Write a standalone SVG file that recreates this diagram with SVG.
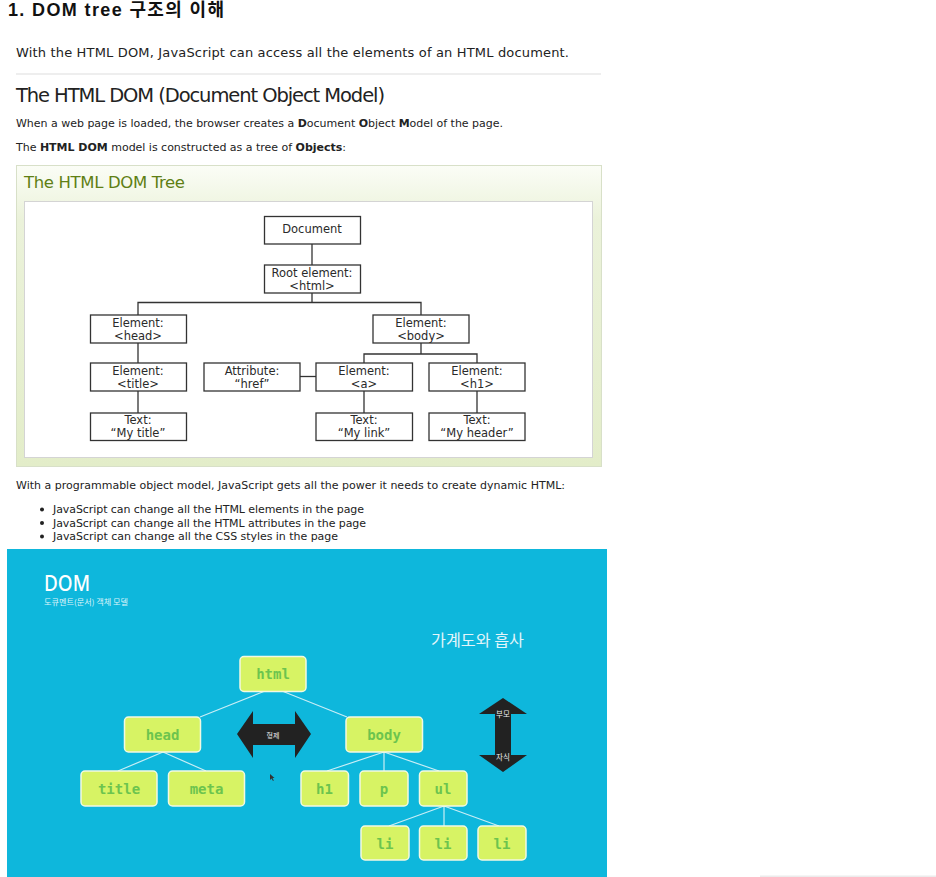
<svg xmlns="http://www.w3.org/2000/svg" width="936" height="877" viewBox="0 0 936 877">
<defs>
<linearGradient id="panelGrad" x1="0" y1="0" x2="0" y2="1">
<stop offset="0" stop-color="#fbfdf6"/>
<stop offset="0.18" stop-color="#ebf2da"/>
<stop offset="1" stop-color="#e3edc9"/>
</linearGradient>
<style>
.t{font-family:"DejaVu Sans","Noto Sans CJK KR",sans-serif;fill:#222}
.nb{fill:#fff;stroke:#333;stroke-width:1.3}
.nt{font-family:"DejaVu Sans",sans-serif;font-size:11.5px;fill:#2a2a2a;text-anchor:middle}
.tl{stroke:#333;stroke-width:1.3;fill:none}
.gn{fill:#d7f364;stroke:#f2f9e2;stroke-width:1.5}
.gt{font-family:"DejaVu Sans Mono","Liberation Mono",monospace;font-size:14px;font-weight:bold;fill:#6cc44e;text-anchor:middle}
.gl{stroke:#c9eef6;stroke-width:1.2;fill:none}
.kr{font-family:"Noto Sans CJK KR",sans-serif}
</style>
</defs>
<rect x="0" y="0" width="936" height="877" fill="#fff"/>

<!-- Header texts -->
<text x="8" y="16" font-family="Liberation Sans,'Noto Sans CJK KR',sans-serif" font-weight="bold" font-size="18" fill="#111" textLength="216">1. DOM tree 구조의 이해</text>
<text class="t" x="16" y="57" font-size="13" fill="#333" textLength="553">With the HTML DOM, JavaScript can access all the elements of an HTML document.</text>
<rect x="16" y="73.5" width="585" height="1" fill="#dddddd"/>
<text class="t" x="16" y="102" font-size="19.5" textLength="369">The HTML DOM (Document Object Model)</text>
<text class="t" x="16" y="127" font-size="11" textLength="487">When a web page is loaded, the browser creates a <tspan font-weight="bold">D</tspan>ocument <tspan font-weight="bold">O</tspan>bject <tspan font-weight="bold">M</tspan>odel of the page.</text>
<text class="t" x="16" y="151" font-size="11" textLength="330">The <tspan font-weight="bold">HTML DOM</tspan> model is constructed as a tree of <tspan font-weight="bold">Objects</tspan>:</text>

<!-- Panel -->
<rect x="16.5" y="165.5" width="585" height="301" fill="url(#panelGrad)" stroke="#d8e0c8" stroke-width="1"/>
<text x="24" y="188" font-family="DejaVu Sans,sans-serif" font-size="16.5" fill="#5f7f14" textLength="161">The HTML DOM Tree</text>
<rect x="24.5" y="201.5" width="568" height="256" fill="#fff" stroke="#d4d4d4" stroke-width="1"/>

<!-- Tree connectors -->
<g id="tree-connectors">
<path class="tl" d="M312 244 V265"/>
<path class="tl" d="M312 293 V302.5 M138 315 V302.5 H421 V315"/>
<path class="tl" d="M138 343 V363 M138 391 V413"/>
<path class="tl" d="M421 343 V354 M364 363 V354 H477 V363"/>
<path class="tl" d="M300 376.5 H316"/>
<path class="tl" d="M364 391 V413 M477 391 V413"/>
</g>

<g id="n-document"><rect class="nb" x="264.5" y="216.5" width="96" height="27.5"/><text class="nt" x="312" y="233">Document</text></g>
<g id="n-root"><rect class="nb" x="264.5" y="265" width="96" height="28"/><text class="nt" x="312" y="276.5">Root element:</text><text class="nt" x="312" y="289.5">&lt;html&gt;</text></g>
<g id="n-head"><rect class="nb" x="90.5" y="315" width="96" height="28"/><text class="nt" x="138" y="326.5">Element:</text><text class="nt" x="138" y="339.5">&lt;head&gt;</text></g>
<g id="n-body"><rect class="nb" x="373" y="315" width="96" height="28"/><text class="nt" x="421" y="326.5">Element:</text><text class="nt" x="421" y="339.5">&lt;body&gt;</text></g>
<g id="n-title"><rect class="nb" x="90.5" y="363" width="96" height="28"/><text class="nt" x="138" y="374.5">Element:</text><text class="nt" x="138" y="387.5">&lt;title&gt;</text></g>
<g id="n-attr"><rect class="nb" x="204" y="363" width="96" height="28"/><text class="nt" x="252" y="374.5">Attribute:</text><text class="nt" x="252" y="387.5">“href”</text></g>
<g id="n-a"><rect class="nb" x="316" y="363" width="96.5" height="28"/><text class="nt" x="364" y="374.5">Element:</text><text class="nt" x="364" y="387.5">&lt;a&gt;</text></g>
<g id="n-h1"><rect class="nb" x="429" y="363" width="96" height="28"/><text class="nt" x="477" y="374.5">Element:</text><text class="nt" x="477" y="387.5">&lt;h1&gt;</text></g>
<g id="n-text-title"><rect class="nb" x="90.5" y="413" width="96" height="27.5"/><text class="nt" x="138" y="424">Text:</text><text class="nt" x="138" y="437">“My title”</text></g>
<g id="n-text-link"><rect class="nb" x="316" y="413" width="96.5" height="27.5"/><text class="nt" x="364" y="424">Text:</text><text class="nt" x="364" y="437">“My link”</text></g>
<g id="n-text-header"><rect class="nb" x="429" y="413" width="96" height="27.5"/><text class="nt" x="477" y="424">Text:</text><text class="nt" x="477" y="437">“My header”</text></g>

<!-- Text after panel -->
<text class="t" x="16" y="489" font-size="11" textLength="549">With a programmable object model, JavaScript gets all the power it needs to create dynamic HTML:</text>
<circle cx="42" cy="509.5" r="2" fill="#222"/>
<circle cx="42" cy="523" r="2" fill="#222"/>
<circle cx="42" cy="536.5" r="2" fill="#222"/>
<text class="t" x="53" y="513" font-size="11" textLength="311">JavaScript can change all the HTML elements in the page</text>
<text class="t" x="53" y="526.5" font-size="11" textLength="313">JavaScript can change all the HTML attributes in the page</text>
<text class="t" x="53" y="540" font-size="11" textLength="285">JavaScript can change all the CSS styles in the page</text>

<!-- Blue diagram -->
<rect x="7" y="549" width="600" height="328" fill="#0eb7dc"/>
<text x="44" y="591" font-family="Noto Sans,'DejaVu Sans',sans-serif" font-size="22" font-weight="500" fill="#fff" textLength="46" lengthAdjust="spacingAndGlyphs">DOM</text>
<text class="kr" x="44" y="605" font-size="7.5" fill="#dff4fa" textLength="84" lengthAdjust="spacingAndGlyphs">도큐멘트(문서) 객체 모델</text>
<text class="kr" x="431" y="646" font-size="16" fill="#e3f5fa" textLength="93" lengthAdjust="spacingAndGlyphs">가계도와 흡사</text>

<g id="dom-connectors">
<path class="gl" d="M265 691 L200 717 M282 691 L347 717"/>
<path class="gl" d="M163 752 L118 771 M163 752 L206 771"/>
<path class="gl" d="M384 752 L327 771 M384 752 V771 M384 752 L439 771"/>
<path class="gl" d="M444 806 L389 826 M444 806 V826 M444 806 L499 826"/>
</g>

<g id="g-html"><rect class="gn" x="240" y="656.5" width="66" height="35" rx="4"/><text class="gt" x="273" y="679">html</text></g>
<g id="g-head"><rect class="gn" x="124.5" y="717" width="76" height="35" rx="4"/><text class="gt" x="162.5" y="740">head</text></g>
<g id="g-body"><rect class="gn" x="346" y="717" width="76.5" height="35" rx="4"/><text class="gt" x="384" y="740">body</text></g>
<g id="g-title"><rect class="gn" x="81" y="771" width="76" height="35" rx="4"/><text class="gt" x="119" y="794">title</text></g>
<g id="g-meta"><rect class="gn" x="168.5" y="771" width="76" height="35" rx="4"/><text class="gt" x="206.5" y="794">meta</text></g>
<g id="g-h1"><rect class="gn" x="301" y="771" width="47.5" height="35" rx="4"/><text class="gt" x="324.5" y="794">h1</text></g>
<g id="g-p"><rect class="gn" x="360" y="771" width="48" height="35" rx="4"/><text class="gt" x="384" y="794">p</text></g>
<g id="g-ul"><rect class="gn" x="419.5" y="771" width="47.5" height="35" rx="4"/><text class="gt" x="443" y="794">ul</text></g>
<g id="g-li1"><rect class="gn" x="361" y="826" width="48" height="34" rx="4"/><text class="gt" x="385" y="848.5">li</text></g>
<g id="g-li2"><rect class="gn" x="419.5" y="826" width="47.5" height="34" rx="4"/><text class="gt" x="443" y="848.5">li</text></g>
<g id="g-li3"><rect class="gn" x="478" y="826" width="48" height="34" rx="4"/><text class="gt" x="502" y="848.5">li</text></g>

<g id="arrow-sibling">
<polygon points="237,734 253,711 253,724 295,724 295,711 311,734 295,758 295,745 253,745 253,758" fill="#222"/>
<text class="kr" x="273" y="737.5" font-size="7" fill="#e8e8e8" text-anchor="middle">형제</text>
</g>
<g id="arrow-parent">
<polygon points="503,698 527,714 511,714 511,755 527,755 503,772 479,755 495,755 495,714 479,714" fill="#222"/>
<text class="kr" x="503" y="716.5" font-size="7.5" fill="#eee" text-anchor="middle">부모</text>
<text class="kr" x="503" y="759.5" font-size="7.5" fill="#eee" text-anchor="middle">자식</text>
</g>
<polygon points="270,774 270,780 271.5,778.5 273,781 273.8,780.5 272.5,778 274.5,778" fill="#333"/>

<rect x="760" y="875.5" width="176" height="1.5" fill="#ececec"/>
</svg>
